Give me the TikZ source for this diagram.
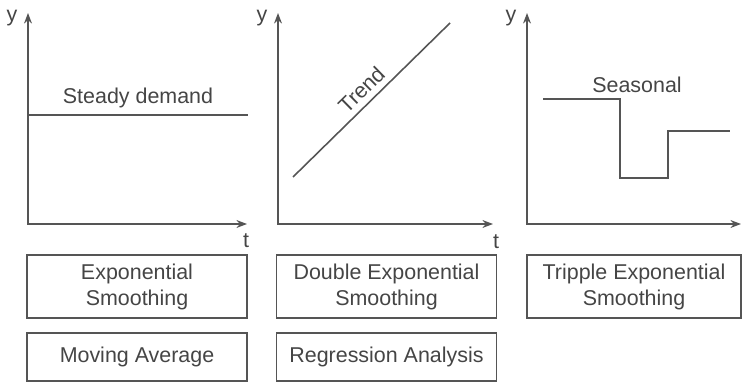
\documentclass[tikz,border=0pt]{standalone}
\usepackage{fontspec}
\setmainfont{Liberation Sans}
\usetikzlibrary{arrows.meta}

\definecolor{linegray}{HTML}{555555}
\definecolor{textgray}{HTML}{454545}

\tikzset{
  axis/.style={draw=linegray, line width=0.9pt,
    {Stealth[length=6pt,width=4.5pt]}-{Stealth[length=6pt,width=4.5pt]}},
  curve/.style={draw=linegray, line width=0.9pt},
  lbl/.style={text=textgray},
  method/.style={draw=linegray, line width=0.9pt, align=center,
    text=textgray, inner sep=0pt, minimum width=4.4cm}
}

\begin{document}
\begin{tikzpicture}[x=0.02cm, y=0.02cm,
  every node/.style={font=\fontsize{12.2}{14.8}\selectfont}]
\useasboundingbox (0,0) rectangle (742,382);

% the three y/t diagrams
\foreach \n/\x/\e in {1/28/247, 2/278/493, 3/527/741}
{
  \coordinate (o\n) at (\x,158);
  \coordinate (y\n) at (\x,369);
  \coordinate (t\n) at (\e,158);
  \draw[axis] (y\n) -- (o\n) -- (t\n);
  \node[lbl] (ylab\n) at (\x-16,364) {y};
}
\node[lbl] (tlab1) at (246,141) {t};
\node[lbl] (tlab2) at (496,140) {t};

% steady demand
\coordinate (s1) at (28,267);
\coordinate (s2) at (248,267);
\draw[curve] (s1) -- node[lbl, above] (steady) {Steady demand} (s2);

% trend
\coordinate (tr1) at (293,205);
\coordinate (tr2) at (450,359);
\draw[curve] (tr1) -- node[lbl, sloped, above] (trend) {Trend} (tr2);

% seasonal steps
\draw[curve] (543,283) -- (620,283) -- (620,204) -- (668,204)
  -- (668,251) -- (730,251);
\node[lbl] (season) at (637,297) {Seasonal};

% methods
\node[method, minimum height=1.26cm] (expo) at (137,95.5)
  {Exponential\\Smoothing};
\node[method, minimum height=1.26cm] (dexpo) at (386.5,95.5)
  {Double Exponential\\Smoothing};
\node[method, minimum height=1.26cm, minimum width=4.28cm] (texpo) at (634,95.5)
  {Tripple Exponential\\Smoothing};
\node[method, minimum height=0.96cm] (movavg) at (137,25)
  {Moving Average};
\node[method, minimum height=0.96cm] (regr) at (386.5,25)
  {Regression Analysis};

\end{tikzpicture}
\end{document}
